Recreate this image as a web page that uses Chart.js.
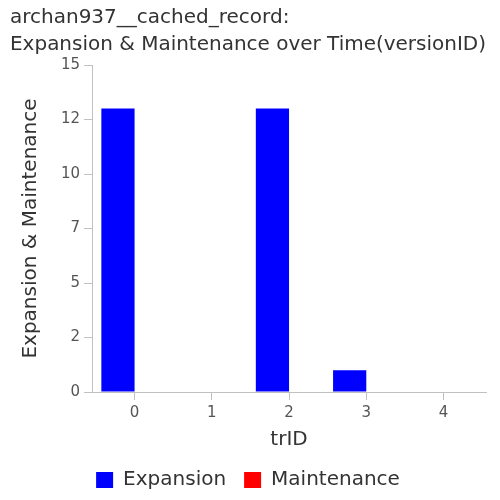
<!DOCTYPE html>
<html>
<head>
<meta charset="utf-8">
<script src="https://cdn.jsdelivr.net/npm/chart.js@4"></script>
<style>
  html, body { margin: 0; padding: 0; background: #fff; }
  #wrap { width: 500px; height: 500px; }
</style>
</head>
<body>
<div id="wrap"><canvas id="chart"></canvas></div>
<script>
// chart data
const trIDs = [0, 1, 2, 3, 4];
const expansion = [13, 0, 13, 1, 0];
const maintenance = [0, 0, 0, 0, 0];
const titleLines = ['archan937__cached_record:', 'Expansion & Maintenance over Time(versionID)'];

const axisGray = '#c0c0c0';
const font = 'DejaVu Sans';

const toPoints = (vals) => trIDs.map((x, i) => ({ x: x, y: vals[i] }));

new Chart(document.getElementById('chart'), {
    type: 'bar',
    data: {
        datasets: [
            {
                label: 'Expansion',
                data: toPoints(expansion),
                backgroundColor: '#0000ff',
                borderWidth: 0,
                categoryPercentage: 0.86,
                barPercentage: 1
            },
            {
                label: 'Maintenance',
                data: toPoints(maintenance),
                backgroundColor: '#ff0000',
                borderWidth: 0,
                categoryPercentage: 0.86,
                barPercentage: 1
            }
        ]
    },
    options: {
        responsive: true,
        maintainAspectRatio: false,
        animation: false,
        layout: { padding: { left: 10, right: 14, top: 0, bottom: 0 } },
        plugins: {
            title: {
                display: true,
                text: titleLines,
                align: 'start',
                color: '#333',
                font: { family: font, size: 20, weight: 'normal', lineHeight: 1.35 },
                padding: { top: 4, bottom: 7 }
            },
            legend: {
                position: 'bottom',
                labels: {
                    color: '#333',
                    font: { family: font, size: 20 },
                    boxWidth: 17,
                    boxHeight: 16,
                    padding: 18
                }
            },
            tooltip: { enabled: false }
        },
        scales: {
            x: {
                type: 'linear',
                min: -0.55,
                max: 4.55,
                offset: false,
                ticks: {
                    stepSize: 1,
                    includeBounds: false,
                    color: '#555',
                    font: { family: font, size: 15 },
                    padding: 4
                },
                grid: { drawOnChartArea: false, offset: false, color: axisGray, tickLength: 8 },
                border: { color: axisGray },
                title: {
                    display: true,
                    text: 'trID',
                    color: '#333',
                    font: { family: font, size: 20 },
                    padding: { top: 2, bottom: 0 }
                }
            },
            y: {
                min: 0,
                max: 15,
                ticks: {
                    stepSize: 2.5,
                    color: '#555',
                    font: { family: font, size: 15 },
                    padding: 4,
                    callback: (v) => Math.trunc(v)
                },
                grid: { drawOnChartArea: false, color: axisGray, tickLength: 8 },
                border: { color: axisGray },
                title: {
                    display: true,
                    text: 'Expansion & Maintenance',
                    color: '#333',
                    font: { family: font, size: 20 },
                    padding: { top: 9, bottom: 14 }
                }
            }
        }
    }
});
</script>
</body>
</html>
